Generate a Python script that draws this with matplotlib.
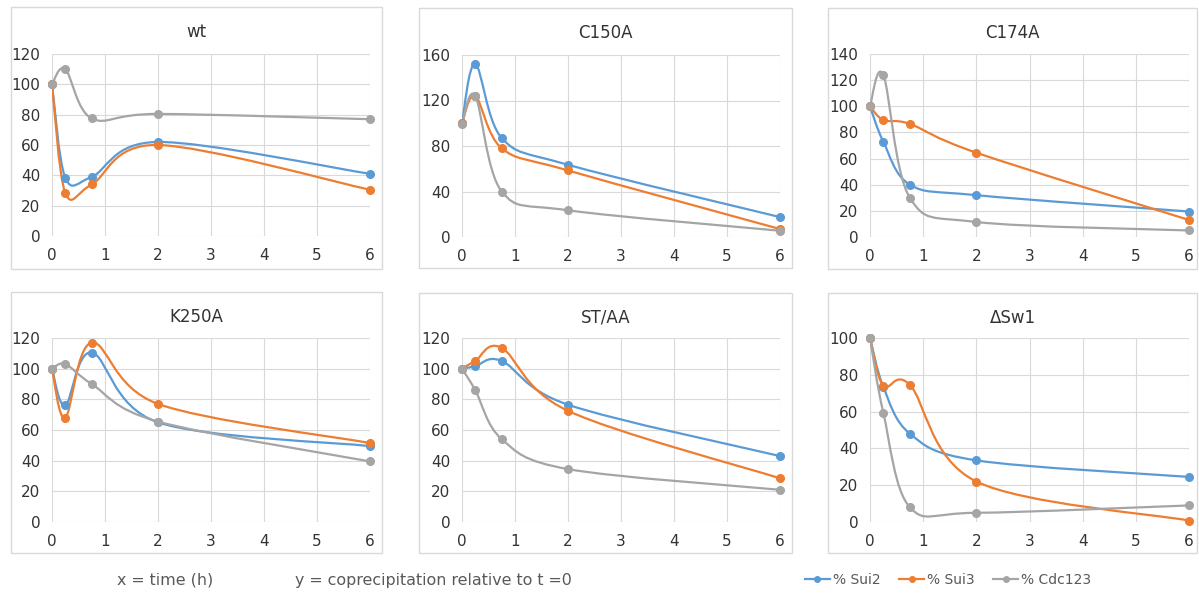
import numpy as np
import matplotlib
matplotlib.use("Agg")
import matplotlib.pyplot as plt
from matplotlib.path import Path
from matplotlib.patches import PathPatch, Rectangle
from matplotlib.lines import Line2D

plt.rcParams['font.family'] = ['DejaVu Sans']

# --- Data ---
TIMES = [0, 0.25, 0.75, 2, 6]
SERIES = ['% Sui2', '% Sui3', '% Cdc123']
COLORS = ['#5B9BD5', '#ED7D31', '#A5A5A5']

titles = ['wt', 'C150A', 'C174A', 'K250A', 'ST/AA', '\u0394Sw1']
ymax = [120, 160, 140, 120, 120, 100]
ystep = [20, 40, 20, 20, 20, 20]

wt_sui2 = [100, 38.5, 39, 62, 41]
wt_sui3 = [100, 28.5, 34, 60, 30.5]
wt_cdc123 = [100, 110, 77.5, 80.5, 77]

c150a_sui2 = [100, 152, 87, 63.5, 17.5]
c150a_sui3 = [100, 124, 78, 58.5, 7]
c150a_cdc123 = [99.5, 124, 40, 23.5, 5.5]

c174a_sui2 = [100, 73, 40, 32, 19.5]
c174a_sui3 = [100, 89.5, 86.5, 64.5, 13]
c174a_cdc123 = [100, 124, 30, 11.5, 5]

k250a_sui2 = [100, 76, 110.5, 65, 49.5]
k250a_sui3 = [100, 68, 117, 77, 51.5]
k250a_cdc123 = [100, 103, 90, 65.5, 39.5]

staa_sui2 = [100, 101.5, 105, 76.5, 43]
staa_sui3 = [100, 105, 113.5, 72.5, 28.5]
staa_cdc123 = [100, 86, 54, 34.5, 21]

dsw1_sui2 = [100, 73.5, 48, 33.5, 24.5]
dsw1_sui3 = [100, 74, 74.5, 22, 0.8]
dsw1_cdc123 = [100, 59.5, 8, 5, 9]

panel_data = [
    [wt_sui2, wt_sui3, wt_cdc123],
    [c150a_sui2, c150a_sui3, c150a_cdc123],
    [c174a_sui2, c174a_sui3, c174a_cdc123],
    [k250a_sui2, k250a_sui3, k250a_cdc123],
    [staa_sui2, staa_sui3, staa_cdc123],
    [dsw1_sui2, dsw1_sui3, dsw1_cdc123],
]

# --- Layout (pixels) ---
W, H = 1199, 597
# plot areas: left, right, top, bottom
plot_px = [
    (52, 370, 54, 236), (462, 780, 55, 237), (870, 1189, 54, 237),
    (52, 370, 338, 522), (462, 780, 338, 522), (870, 1189, 338, 522),
]
# chart frames: left, right, top, bottom
frame_px = [
    (11, 382, 7, 269), (419, 792, 8, 268), (828, 1197, 8, 269),
    (11, 382, 292, 553), (419, 792, 293, 553), (828, 1197, 293, 553),
]


def smooth_path(xs, ys):
    # Excel-like smoothed line (Catmull-Rom as cubic Bezier)
    pts = np.column_stack([xs, ys]).astype(float)
    n = len(pts)
    verts = [pts[0]]
    codes = [Path.MOVETO]
    for i in range(n - 1):
        p0 = pts[max(i - 1, 0)]
        p1 = pts[i]
        p2 = pts[i + 1]
        p3 = pts[min(i + 2, n - 1)]
        verts += [p1 + (p2 - p0) / 6, p2 - (p3 - p1) / 6, p2]
        codes += [Path.CURVE4] * 3
    return Path(verts, codes)


fig = plt.figure(figsize=(W / 100, H / 100), dpi=100)

for k in range(6):
    l, r, t, b = plot_px[k]
    ax = fig.add_axes([l / W, 1 - b / H, (r - l) / W, (b - t) / H])
    fl, fr, ft, fb = frame_px[k]
    fig.patches.append(Rectangle((fl / W, 1 - fb / H), (fr - fl) / W, (fb - ft) / H,
                                 transform=fig.transFigure, fill=False,
                                 edgecolor='#D9D9D9', linewidth=1.0, zorder=0))
    fig.text((fl + fr) / 2 / W, 1 - (ft + 25) / H,
             titles[k], ha='center', va='center', fontsize=12, color='#333333')

    for vals, col in zip(panel_data[k], COLORS):
        ax.add_patch(PathPatch(smooth_path(TIMES, vals), fill=False,
                               edgecolor=col, linewidth=1.6, zorder=2))
        ax.plot(TIMES, vals, linestyle='none', marker='o', markersize=5.5,
                color=col, clip_on=False, zorder=3)

    ax.set_xlim(0, 6)
    ax.set_ylim(0, ymax[k])
    ax.set_xticks(range(0, 7))
    ax.set_yticks(np.arange(0, ymax[k] + 1, ystep[k]))
    for s in ax.spines.values():
        s.set_visible(False)
    ax.grid(True, color='#D9D9D9', linewidth=0.8)
    ax.set_axisbelow(True)
    ax.tick_params(length=0, labelsize=11, colors='#333333', pad=8.5)

fig.text(117 / W, 1 - 580 / H, 'x = time (h)', ha='left', va='center',
         fontsize=11.4, color='#595959')
fig.text(295 / W, 1 - 580 / H, 'y = coprecipitation relative to t =0', ha='left',
         va='center', fontsize=11.4, color='#595959')

handles = [Line2D([], [], color=c, marker='o', markersize=4, linewidth=1.6)
           for c in COLORS]
fig.legend(handles, SERIES, loc='center', bbox_to_anchor=(948 / W, 1 - 580 / H),
           ncol=3, frameon=False, fontsize=10, handlelength=1.8,
           handletextpad=0.2, columnspacing=1.35, labelcolor='#595959')

fig.savefig('out.png', dpi=100)
